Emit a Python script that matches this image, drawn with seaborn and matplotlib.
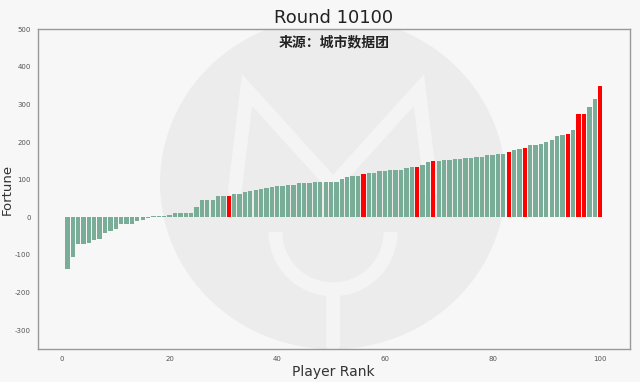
import numpy as np
import pandas as pd
import matplotlib
matplotlib.use("Agg")
import matplotlib.pyplot as plt
from matplotlib.patches import Ellipse, Arc
from matplotlib.lines import Line2D
import seaborn as sns

ranks = list(range(1, 101))
fortune = [-137, -106, -72, -71, -68, -59, -57, -42, -37, -30,
           -19, -19, -19, -9, -7, -3, 3, 3, 3, 7,
           11, 11, 11, 11, 27, 47, 47, 47, 56, 56,
           56, 63, 63, 66, 69, 73, 76, 78, 81, 82,
           84, 85, 85, 91, 91, 91, 93, 95, 95, 95,
           95, 102, 106, 110, 110, 115, 119, 119, 122, 124,
           126, 126, 126, 131, 133, 133, 138, 146, 149, 149,
           151, 151, 155, 155, 157, 157, 160, 160, 165, 165,
           168, 168, 174, 178, 181, 185, 191, 191, 195, 201,
           206, 215, 218, 221, 231, 274, 274, 294, 314, 349]
highlighted = [31, 56, 66, 69, 83, 86, 94, 96, 97, 100]
x_ticks = [0, 20, 40, 60, 80, 100]
y_ticks = [-300, -200, -100, 0, 100, 200, 300, 400, 500]

df = pd.DataFrame({"rank": ranks, "fortune": fortune})
df["hl"] = df["rank"].isin(highlighted)

sns.set_style("white")
plt.rcParams["font.family"] = ["DejaVu Sans", "Noto Sans CJK SC"]
plt.rcParams["axes.unicode_minus"] = False

bg = "#f7f7f7"
fig = plt.figure(figsize=(6.4, 3.82), dpi=100, facecolor=bg)
ax = fig.add_axes([0.059, 0.086, 0.925, 0.838])
ax.set_facecolor(bg)

# watermark logo behind the bars
wm = "#ececec"
light = "#f4f4f4"
ax.add_patch(Ellipse((0.520, 0.521), 0.540, 0.870, transform=fig.transFigure,
                     facecolor=wm, edgecolor="none", zorder=0.2))
fx = lambda px: px / 640
fy = lambda py: 1 - py / 382
ax.add_line(Line2D([fx(235), fx(247), fx(333), fx(419), fx(431)],
                   [fy(190), fy(90), fy(185), fy(90), fy(190)],
                   transform=fig.transFigure, color=light, lw=10,
                   solid_joinstyle="miter", zorder=0.3))
ax.add_patch(Arc((fx(333), fy(232)), 0.18, 0.30, theta1=180, theta2=360,
                 transform=fig.transFigure, color=light, lw=10, zorder=0.3))
ax.add_line(Line2D([fx(333), fx(333)], [fy(290), fy(345)],
                   transform=fig.transFigure, color=light, lw=10, zorder=0.3))

sns.barplot(data=df, x="rank", y="fortune", hue="hl", native_scale=True,
            dodge=False, palette={False: "#79ad97", True: "#ff0000"},
            legend=False, width=0.8, saturation=1, linewidth=0, ax=ax, zorder=2)

ax.set_xlim(-4.5, 105.5)
ax.set_ylim(-350, 500)
ax.set_xticks(x_ticks)
ax.set_yticks(y_ticks)
ax.tick_params(labelsize=5, colors="#555555", length=3, width=0.6, pad=2)
for s in ax.spines.values():
    s.set_color("#999999")
    s.set_linewidth(1)

ax.set_xlabel("Player Rank", fontsize=10, color="#333333", labelpad=2)
ax.set_ylabel("Fortune", fontsize=9.5, color="#333333")
ax.yaxis.set_label_coords(-0.040, 0.5)

cx = 0.059 + 0.925 / 2
fig.text(cx, 0.952, "Round 10100", ha="center", va="center",
         fontsize=13, color="#222222")
fig.text(cx, 0.888, "来源：城市数据团", ha="center", va="center",
         fontsize=10, fontweight="bold", color="#222222",
         family=["Noto Sans CJK SC", "DejaVu Sans"])

fig.savefig("out.png", dpi=100, facecolor=bg)
